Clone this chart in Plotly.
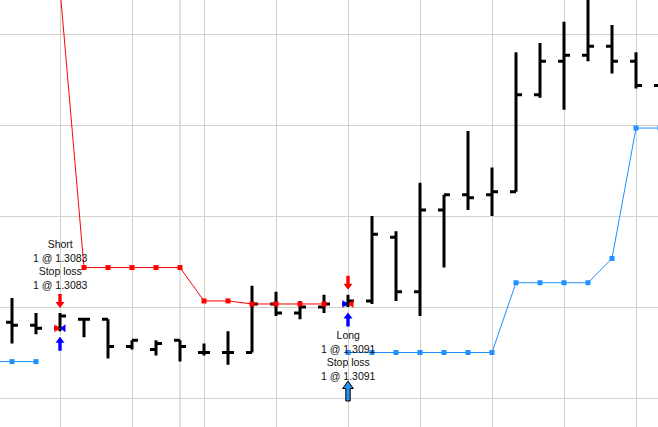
import plotly.graph_objects as go

# ---------------- data ----------------
bar_index = list(range(28))
opens  = [1.3085, 1.3084, 1.3083, 1.3086, 1.3086, 1.3077, 1.3076, 1.3079, 1.3075, 1.3075,
          1.3075, 1.3091, 1.3088, 1.3090, 1.3091, 1.3092, 1.3113, 1.3095, 1.3122, 1.3127,
          1.3127, 1.3128, 1.3160, 1.3171, 1.3173, 1.3176, 1.3171, 1.3163]
highs  = [1.3093, 1.3088, 1.3088, 1.3086, 1.3086, 1.3079, 1.3079, 1.3079, 1.3078, 1.3082,
          1.3097, 1.3095, 1.3092, 1.3094, 1.3094, 1.3120, 1.3115, 1.3131, 1.3127, 1.3148,
          1.3136, 1.3174, 1.3177, 1.3184, 1.3193, 1.3183, 1.3174, 1.3166]
lows   = [1.3078, 1.3081, 1.3082, 1.3080, 1.3073, 1.3076, 1.3074, 1.3072, 1.3074, 1.3071,
          1.3075, 1.3087, 1.3086, 1.3088, 1.3090, 1.3091, 1.3092, 1.3087, 1.3103, 1.3122,
          1.3120, 1.3128, 1.3159, 1.3155, 1.3171, 1.3167, 1.3162, 1.3158]
closes = [1.3084, 1.3083, 1.3087, 1.3086, 1.3077, 1.3079, 1.3078, 1.3077, 1.3075, 1.3075,
          1.3091, 1.3088, 1.3090, 1.3091, 1.3092, 1.3114, 1.3095, 1.3122, 1.3127, 1.3126,
          1.3128, 1.3160, 1.3171, 1.3173, 1.3176, 1.3171, 1.3163, 1.3161]

short_stop_index = [2, 3, 4, 5, 6, 7, 8, 9, 10, 11, 12, 13]
short_stop_price = [1.3195, 1.3103, 1.3103, 1.3103, 1.3103, 1.3103, 1.3092, 1.3092,
                    1.3091, 1.3091, 1.3091, 1.3091]

long_stop_index = [-1, 0, 1, None, 14, 15, 16, 17, 18, 19, 20, 21, 22, 23, 24, 25, 26, 27]
long_stop_price = [1.3072, 1.3072, 1.3072, None, 1.3075, 1.3075, 1.3075, 1.3075, 1.3075,
                   1.3075, 1.3075, 1.3098, 1.3098, 1.3098, 1.3098, 1.3106, 1.3149, 1.3149]

trade_index = [2, 14]
trade_price = [1.3083, 1.3091]
trade_side = ["Short", "Long"]
trade_qty = [1, 1]

session_breaks = [7]
signal_index = [14]

# ---------------- figure ----------------
W, H = 658, 427
BAR_PX = 24
x_range = [-0.5, -0.5 + W / BAR_PX]
y_range = [1.305044, 1.319121]

fig = go.Figure()
fig.add_trace(go.Ohlc(
    x=bar_index, open=opens, high=highs, low=lows, close=closes,
    increasing=dict(line=dict(color="black", width=3)),
    decreasing=dict(line=dict(color="black", width=3)),
    tickwidth=0.25, hoverinfo="skip", showlegend=False))

fig.add_trace(go.Scatter(
    x=short_stop_index, y=short_stop_price, mode="lines+markers",
    line=dict(color="#ff0000", width=1),
    marker=dict(symbol="square", size=5, color="#ff0000"),
    hoverinfo="skip", showlegend=False))

fig.add_trace(go.Scatter(
    x=long_stop_index, y=long_stop_price, mode="lines+markers", connectgaps=False,
    line=dict(color="#1e90ff", width=1),
    marker=dict(symbol="square", size=5, color="#1e90ff"),
    hoverinfo="skip", showlegend=False))


def path(points):
    return "M" + "L".join(f"{x},{y}" for x, y in points) + "Z"


def shifted(points, dy):
    return [(x, y + dy) for x, y in points]


down_arrow = [(0, 0), (-4.5, 6), (-1.7, 6), (-1.7, 14), (1.7, 14), (1.7, 6), (4.5, 6)]
up_arrow = [(x, -y) for x, y in down_arrow]
tri_right = [(-5.5, 3.9), (0, 0), (-5.5, -3.9)]
tri_left = [(5.5, 3.9), (0, 0), (5.5, -3.9)]
big_up = [(0, 0), (-5.3, -7.5), (-2.2, -7.5), (-2.2, -20), (2.2, -20), (2.2, -7.5), (5.3, -7.5)]

shapes = []


def glyph(xi, yp, pts, fill, line_color=None, lw=0):
    shapes.append(dict(
        type="path", xref="x", yref="y", xsizemode="pixel", ysizemode="pixel",
        xanchor=xi, yanchor=yp, path=path(pts), fillcolor=fill,
        line=dict(color=line_color or fill, width=lw), layer="above"))


for xi, price, side in zip(trade_index, trade_price, trade_side):
    hi, lo = highs[xi], lows[xi]
    glyph(xi, hi, shifted(down_arrow, 5), "#ff0000")
    glyph(xi, lo, shifted(up_arrow, -5.5), "#0000ff")
    if side == "Short":
        glyph(xi, price, tri_right, "#ff0000")
        glyph(xi, price, tri_left, "#0000ff")
    else:
        glyph(xi, price, tri_right, "#0000ff")
        glyph(xi, price, tri_left, "#ff0000")

for xi in signal_index:
    glyph(xi, lows[xi], shifted(big_up, -74), "#2890e8", "#000000", 1)

for xb in session_breaks:
    shapes.append(dict(type="line", xref="x", yref="paper", x0=xb, x1=xb, y0=0, y1=1,
                       line=dict(color="#c0c0c0", width=1), layer="below"))

annotations = []
for xi, price, side, qty in zip(trade_index, trade_price, trade_side, trade_qty):
    lines = [side, f"{qty} @ {price:.4f}", "Stop loss", f"{qty} @ {price:.4f}"]
    ys = 64 if side == "Short" else -52
    annotations.append(dict(
        x=xi, y=price, xref="x", yref="y", text="<br>".join(lines), showarrow=False,
        yshift=ys, xanchor="center", yanchor="middle", align="center", borderpad=0,
        font=dict(family="Liberation Sans, Arial, sans-serif", size=10.5, color="#101010")))

grid = "#d4d0c8"
fig.update_layout(
    width=W, height=H, margin=dict(l=0, r=0, t=0, b=0),
    paper_bgcolor="white", plot_bgcolor="white",
    showlegend=False, shapes=shapes, annotations=annotations,
    xaxis=dict(range=x_range, tickmode="linear", tick0=2, dtick=3, showgrid=True,
               gridcolor=grid, gridwidth=1, showticklabels=False, zeroline=False,
               showline=False, ticks="", rangeslider=dict(visible=False), fixedrange=True),
    yaxis=dict(range=y_range, tickmode="linear", tick0=1.3060, dtick=0.003, showgrid=True,
               gridcolor=grid, gridwidth=1, showticklabels=False, zeroline=False,
               showline=False, ticks="", fixedrange=True),
)

fig.write_html("out.html", config={"displayModeBar": False},
               post_script="document.body.style.margin='0';document.body.style.overflow='hidden';")
